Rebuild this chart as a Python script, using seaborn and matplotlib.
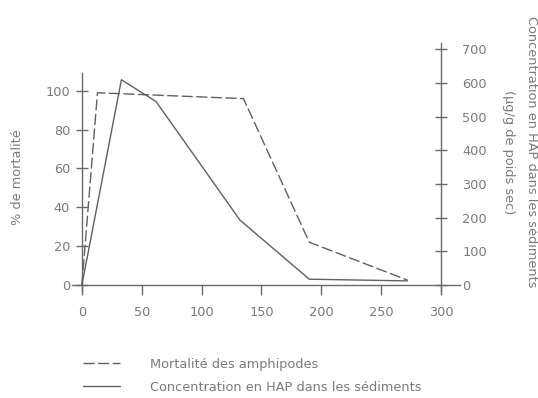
#!/usr/bin/env python3
# plot.py - mortalité des amphipodes vs concentration en HAP

import matplotlib
matplotlib.use("Agg")
import matplotlib.pyplot as plt
import seaborn as sns

sns.set_theme(style="white")
plt.rcParams["font.family"] = ["DejaVu Sans"]

# 1. Data
days_mort = [0, 13, 135, 190, 272]
mortality = [0, 99, 96, 22, 2.5]

days_conc = [0, 33, 62, 132, 190, 272]
concentration = [0, 610, 545, 193, 17, 12]

x_ticks = [0, 50, 100, 150, 200, 250, 300]
left_ticks = [0, 20, 40, 60, 80, 100]
right_ticks = [0, 100, 200, 300, 400, 500, 600, 700]

text_col = "#7a7a7a"
line_col = "#606060"
axis_col = "#6a6a6a"
fs = 9.3

# 2. Figure and axes
fig = plt.figure(figsize=(5.38, 3.98), dpi=100)
ax = fig.add_axes([0.130, 0.259, 0.734, 0.641])
ax2 = ax.twinx()

left_lim = (-5.15, 126.3)
scale = 5.77
ax.set_xlim(-10, 320)
ax.set_ylim(*left_lim)
ax2.set_ylim(left_lim[0] * scale, left_lim[1] * scale)

# 3. Lines
sns.lineplot(x=days_mort, y=mortality, ax=ax, color=line_col, lw=1.0,
             linestyle=(0, (8, 2.5)), label="Mortalité des amphipodes",
             legend=False)
sns.lineplot(x=days_conc, y=concentration, ax=ax2, color=line_col, lw=1.0,
             label="Concentration en HAP dans les sédiments", legend=False)

# 4. Spines
for a in (ax, ax2):
    a.set_facecolor("none")
    a.grid(False)
    for s in a.spines.values():
        s.set_visible(False)

ax.spines["bottom"].set_visible(True)
ax.spines["bottom"].set_position(("data", 0))
ax.spines["bottom"].set_bounds(-8, 316)
ax.spines["left"].set_visible(True)
ax.spines["left"].set_position(("data", 0))
ax.spines["left"].set_bounds(-3, 109)
ax2.spines["right"].set_visible(True)
ax2.spines["right"].set_position(("data", 300))
ax2.spines["right"].set_bounds(-18, 720)
for s in (ax.spines["bottom"], ax.spines["left"], ax2.spines["right"]):
    s.set_color(axis_col)
    s.set_linewidth(1.0)

# 5. Ticks
ax.set_xticks(x_ticks)
ax.set_yticks(left_ticks)
ax2.set_yticks(right_ticks)
ax.tick_params(axis="x", direction="out", length=7, width=1.0,
               colors=axis_col, labelcolor=text_col, labelsize=fs, pad=8,
               bottom=True)
ax.tick_params(axis="y", direction="inout", length=9, width=1.0,
               colors=axis_col, labelcolor=text_col, labelsize=fs, pad=4,
               left=True)
ax2.tick_params(axis="y", direction="inout", length=9, width=1.0,
                colors=axis_col, labelcolor=text_col, labelsize=fs, pad=11,
                right=True)
ax.set_xlabel("")
ax.set_ylabel("")
ax2.set_ylabel("")

# 6. Axis titles
fig.text(18 / 538, 1 - 177 / 398, "% de mortalité", rotation=90,
         ha="center", va="center", color=text_col, fontsize=fs)
fig.text(520 / 538, 1 - 152 / 398,
         "Concentration en HAP dans les sédiments\n(µg/g de poids sec)",
         rotation=-90, ha="center", va="center", color=text_col,
         fontsize=fs, linespacing=1.9, multialignment="center")

# 7. Legend
h1, l1 = ax.get_legend_handles_labels()
h2, l2 = ax2.get_legend_handles_labels()
fig.legend(h1 + h2, l1 + l2, loc="upper left",
           bbox_to_anchor=(83 / 538, 1 - 358 / 398),
           frameon=False, fontsize=fs, labelcolor=text_col,
           handlelength=2.9, handletextpad=2.3, labelspacing=0.75,
           borderpad=0, borderaxespad=0)

fig.savefig("out.png", dpi=100)
plt.close(fig)
